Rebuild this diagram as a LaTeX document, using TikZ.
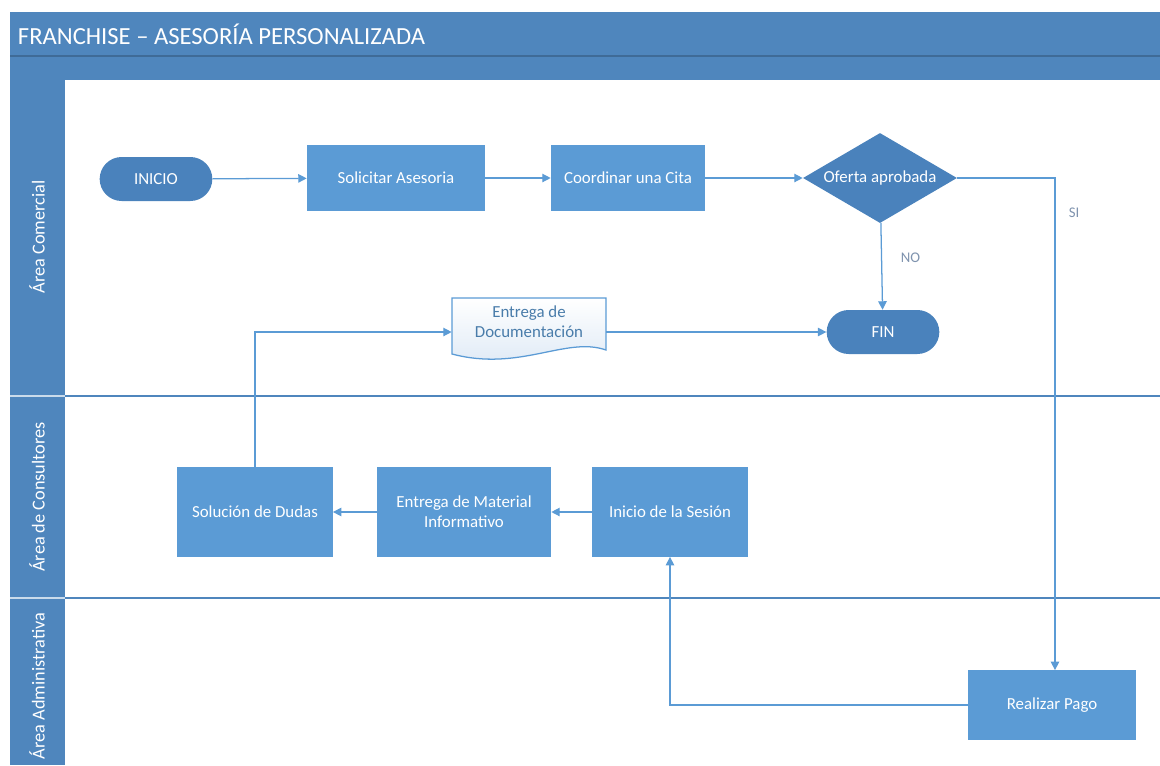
\documentclass[tikz,border=0pt]{standalone}
\usepackage{fontspec}
\setmainfont{Carlito}
\usetikzlibrary{arrows.meta,shapes.geometric,shapes.misc}

\definecolor{lanebar}{HTML}{4F86BD}
\definecolor{boxblue}{HTML}{5B9BD5}
\definecolor{termblue}{HTML}{4A82BC}
\definecolor{linkblue}{HTML}{5B9BD5}
\definecolor{notegray}{HTML}{7F93AE}
\definecolor{docfill}{HTML}{DCE8F5}

\begin{document}
\begin{tikzpicture}[x=0.025cm, y=-0.025cm, font=\fontsize{12}{14}\selectfont,
		proc/.style={rectangle, fill=boxblue, text=white, align=center, inner sep=2pt},
		term/.style={rounded rectangle, fill=termblue, text=white, minimum width=3.05cm, minimum height=1.1cm},
		deci/.style={diamond, fill=termblue, text=white, aspect=1.7, inner sep=0pt, minimum width=3.85cm, minimum height=2.25cm},
		lanetxt/.style={rotate=90, text=white, font=\fontsize{13}{15}\selectfont},
		link/.style={draw=linkblue, line width=0.9pt, -{Triangle[length=6pt,width=6pt]}},
		note/.style={text=notegray, font=\fontsize{10.5}{12}\selectfont}]
		\useasboundingbox (0,0) rectangle (1160,765);

		% pool header and lane column
		\fill[lanebar] (10,12) rectangle (1160,78);
		\draw[lanebar!80!black, line width=0.8pt] (10,56) -- (1160,56);
		\fill[lanebar] (10,78) rectangle (65,765);
		\draw[white!70!lanebar, line width=0.8pt] (10,396) -- (65,396) (10,598) -- (65,598);
		\draw[lanebar, line width=1.2pt] (65,79) -- (1160,79);
		\draw[lanebar, line width=1.2pt] (65,396) -- (1160,396);
		\draw[lanebar, line width=1.2pt] (65,598) -- (1160,598);
		\node [anchor=west, text=white, font=\fontsize{17.5}{20}\selectfont] (title) at (13,34) {FRANCHISE -- ASESORÍA PERSONALIZADA};

		\node [lanetxt] (L1) at (37,237) {Área Comercial};
		\node [lanetxt] (L2) at (37,497) {Área de Consultores};
		\node [lanetxt] (L3) at (37,686) {Área Administrativa};

		% document outline, drawn under its node
		\path[top color=white, bottom color=docfill, draw=linkblue, line width=0.9pt]
			(452,298) -- (606,298) -- (606,350)
			.. controls (566,336) and (520,372) .. (452,354) -- cycle;

		% shapes
		\node [term] (ini) at (156,179) {INICIO};
		\node [proc, minimum width=4.45cm, minimum height=1.63cm] (sol) at (396,178) {Solicitar Asesoria};
		\node [proc, minimum width=3.85cm, minimum height=1.63cm] (cit) at (628,178) {Coordinar una Cita};
		\node [deci] (ofe) at (880,178) {Oferta aprobada};
		\node [term] (fin) at (883,332) {FIN};
		\node [text=boxblue!80!black, align=center, minimum width=3.85cm, minimum height=1.3cm] (doc) at (529,322) {Entrega de\\Documentación};
		\node [proc, minimum width=3.88cm, minimum height=2.23cm] (dud) at (255,512) {Solución de Dudas};
		\node [proc, minimum width=4.35cm, minimum height=2.23cm] (mat) at (464,512) {Entrega de Material\\Informativo};
		\node [proc, minimum width=3.88cm, minimum height=2.23cm] (ses) at (670,512) {Inicio de la Sesión};
		\node [proc, minimum width=4.18cm, minimum height=1.73cm] (pag) at (1052,705) {Realizar Pago};

		\coordinate (c1) at (1055,178);
		\coordinate (c2) at (670,705);
		\coordinate (c3) at (255,332);

		\path[link] (ini) -- (sol);
		\path[link] (sol) -- (cit);
		\path[link] (cit) -- (ofe);
		\path[link] (ofe) -- node [note, right=10pt, pos=0.4] {NO} (fin);
		\path[link] (ofe.east) -- (c1) -- node [note, right=6pt, pos=0.07] {SI} (pag.north -| c1);
		\path[link] (pag.west |- c2) -- (c2) -- (ses.south);
		\path[link] (ses) -- (mat);
		\path[link] (mat) -- (dud);
		\path[link] (dud.north) -- (c3) -- (doc.west |- c3);
		\path[link] (doc.east |- c3) -- (fin);
	\end{tikzpicture}
\end{document}
